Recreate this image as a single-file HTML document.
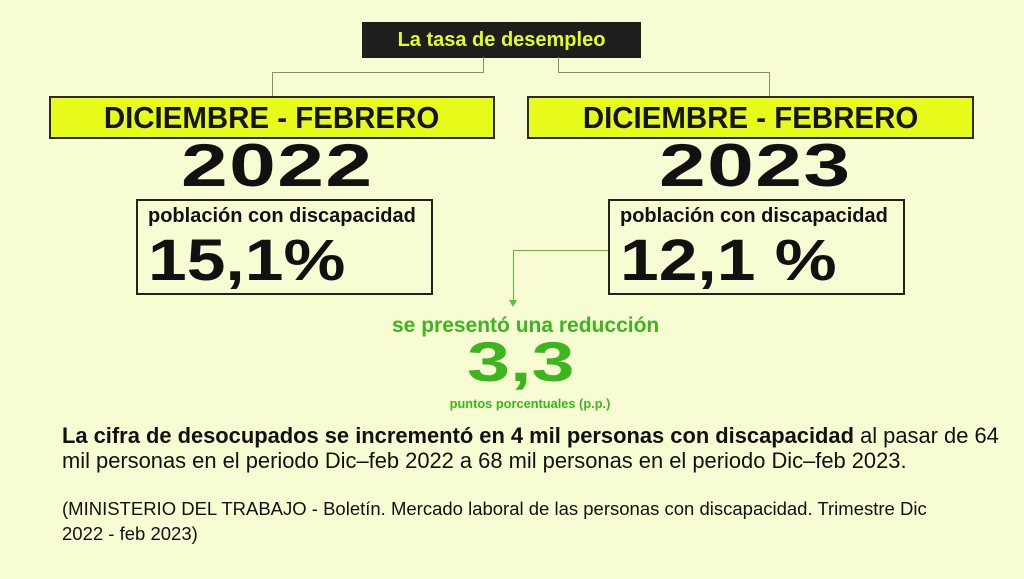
<!DOCTYPE html>
<html><head><meta charset="utf-8"><style>
body{margin:0;width:1024px;height:579px;background:#f8fcd2;position:relative;overflow:hidden;font-family:"Liberation Sans",sans-serif}
div{position:absolute;box-sizing:border-box}
.ln{background:#8a8c78}
.lime{background:#e8fc1c;border:2px solid #2a2a20;height:43px;top:96px;font-weight:bold;font-size:31px;line-height:39px;text-align:center;color:#141414}
.lime span{display:inline-block;transform:scaleX(0.95)}
.yr{font-weight:900;font-size:60px;line-height:58px;color:#111;transform:scaleX(1.4);transform-origin:left top;letter-spacing:1px}
.box{border:2px solid #222;top:199px;height:96px;width:297px}
.pc{font-weight:bold;font-size:20px;color:#111;left:10px;top:4px;white-space:nowrap}
.big{font-weight:900;font-size:58px;line-height:58px;color:#111;left:10px;top:31px;transform:scaleX(1.2);transform-origin:left top;white-space:nowrap}
.g{color:#3db51f;font-weight:bold;white-space:nowrap}
</style></head><body>
<div style="left:362px;top:22px;width:279px;height:36px;background:#1e1e1c;color:#e6fb1e;font-weight:bold;font-size:20px;line-height:36px;text-align:center">La tasa de desempleo</div>
<div class="ln" style="left:483px;top:57px;width:1px;height:16px"></div>
<div class="ln" style="left:272px;top:72px;width:212px;height:1px"></div>
<div class="ln" style="left:272px;top:72px;width:1px;height:24px"></div>
<div class="ln" style="left:558px;top:57px;width:1px;height:16px"></div>
<div class="ln" style="left:558px;top:72px;width:212px;height:1px"></div>
<div class="ln" style="left:769px;top:72px;width:1px;height:24px"></div>
<div class="lime" style="left:49px;width:446px"><span>DICIEMBRE - FEBRERO</span></div>
<div class="lime" style="left:527px;width:447px"><span>DICIEMBRE - FEBRERO</span></div>
<div class="yr" style="left:181px;top:137px">2022</div>
<div class="yr" style="left:659px;top:137px">2023</div>
<div class="box" style="left:136px"><div class="pc">población con discapacidad</div><div class="big">15,1%</div></div>
<div class="box" style="left:608px"><div class="pc">población con discapacidad</div><div class="big">12,1 %</div></div>
<div style="left:513px;top:250px;width:95px;height:1px;background:#5cbf3a"></div>
<div style="left:513px;top:250px;width:1px;height:52px;background:#5cbf3a"></div>
<div style="left:509px;top:300px;width:0;height:0;border-left:4px solid transparent;border-right:4px solid transparent;border-top:7px solid #5cbf3a"></div>
<div class="g" style="left:392px;top:314px;font-size:21px;width:265px;text-align:center">se presentó una reducción</div>
<div class="g" style="left:467px;top:334px;font-size:56px;line-height:56px;font-weight:900;transform:scaleX(1.38);transform-origin:left top">3,3</div>
<div class="g" style="left:430px;top:396px;font-size:12.8px;width:200px;text-align:center">puntos porcentuales (p.p.)</div>
<div style="left:62px;top:423px;font-size:21.9px;line-height:25px;color:#111;width:960px;white-space:nowrap"><b>La cifra de desocupados se incrementó en 4 mil personas con discapacidad</b> al pasar de 64<br>mil personas en el periodo Dic–feb 2022 a 68 mil personas en el periodo Dic–feb 2023.</div>
<div style="left:62px;top:496px;font-size:18.5px;line-height:25px;color:#111;width:960px;white-space:nowrap">(MINISTERIO DEL TRABAJO - Boletín. Mercado laboral de las personas con discapacidad. Trimestre Dic<br>2022 - feb 2023)</div>
</body></html>
